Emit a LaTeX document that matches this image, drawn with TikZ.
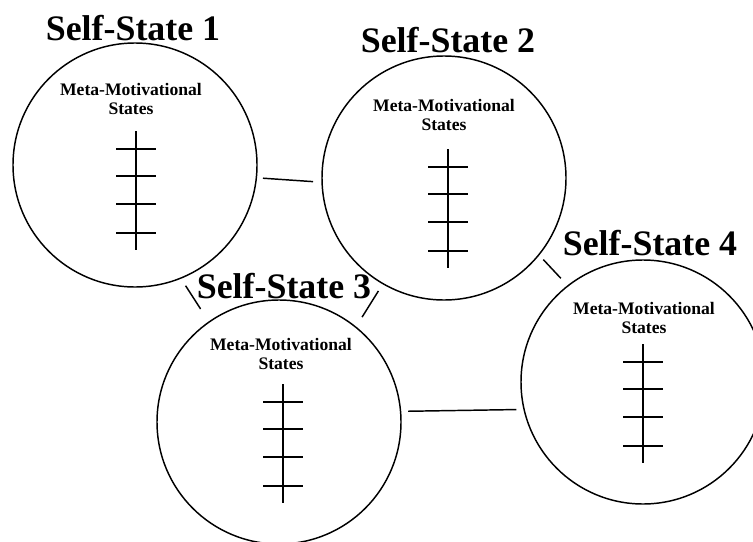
\documentclass[tikz,border=0pt]{standalone}
\usepackage{fontspec}
\setmainfont{Liberation Serif}
\usepackage{tikz}
\usetikzlibrary{positioning}

\tikzset{
  state/.style={circle, draw, line width=1.1pt, minimum size=183pt, inner sep=0pt, outer sep=0pt},
  title/.style={font=\fontsize{26.9}{30}\selectfont\bfseries, inner sep=0pt, anchor=base},
  meta/.style={font=\fontsize{13.2}{14}\selectfont\bfseries, align=center, inner sep=0pt},
  link/.style={line width=1.1pt},
  rung/.style={line width=1.3pt}
}

% scale with four rungs
\newcommand{\mmladder}[2]{%
  \draw[rung] (#1,#2) -- (#1,#2+119);
  \foreach \dy in {18,45,73,102}
    \draw[rung] (#1-20,#2+\dy) -- (#1+20,#2+\dy);
}

\begin{document}
\begin{tikzpicture}[x=0.75pt,y=-0.75pt]
  \clip (0,0) rectangle (753,542);

  % self-states
  \node[state] (ss1) at (135,165) {};
  \node[state] (ss2) at (444,178) {};
  \node[state] (ss3) at (279,422) {};
  \node[state] (ss4) at (643,382) {};

  \node[title] (t1) at (133,41) {Self-State 1};
  \node[title] (t2) at (448,53) {Self-State 2};
  \node[title] (t3) at (284,298) {Self-State 3};
  \node[title] (t4) at (650,255) {Self-State 4};

  \node[meta] (m1) at (131,99) {Meta-Motivational\\States};
  \node[meta] (m2) at (444,115) {Meta-Motivational\\States};
  \node[meta] (m3) at (281,354) {Meta-Motivational\\States};
  \node[meta] (m4) at (644,318) {Meta-Motivational\\States};

  \mmladder{136}{131}
  \mmladder{448}{149}
  \mmladder{283}{384}
  \mmladder{643}{344}

  % links
  \draw[link, shorten <=5pt, shorten >=6.8pt] (ss1.-6) -- (ss2.182);
  \draw[link, shorten <=6.8pt, shorten >=11.7pt] (ss1.-68.5) -- (ss3.125.5);
  \draw[link, shorten <=6.5pt, shorten >=8.9pt] (ss2.240) -- (ss3.51.7);
  \draw[link, shorten <=4.9pt, shorten >=7.8pt] (ss2.-39.6) -- (ss4.128.3);
  \draw[link, shorten <=5.7pt, shorten >=5.9pt] (ss3.5.75) -- (ss4.193);
\end{tikzpicture}
\end{document}
